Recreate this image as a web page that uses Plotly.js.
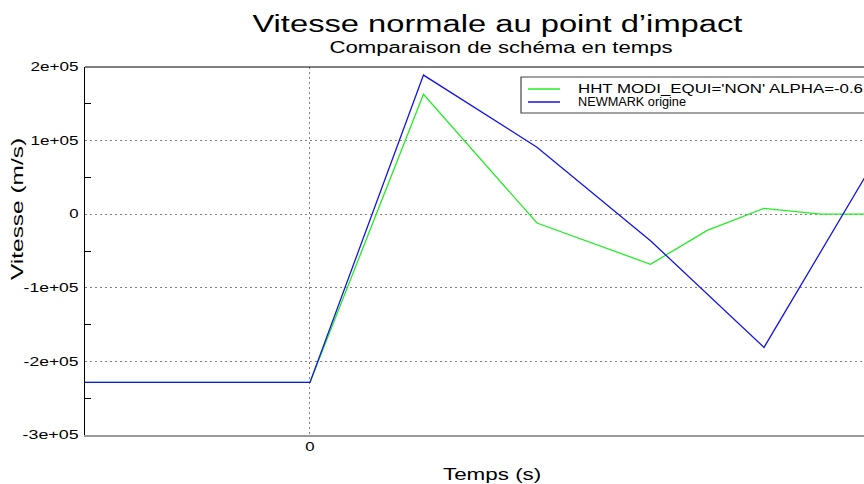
<!DOCTYPE html>
<html>
<head>
<meta charset="utf-8">
<script src="https://cdn.plot.ly/plotly-3.0.1.min.js"></script>
<style>
  html, body { margin: 0; padding: 0; background: #fff; }
  #chart { width: 864px; height: 484px; }
</style>
</head>
<body>
<div id="chart"></div>
<script>
// ---- data ----
const timeNewmark = [-2, 0, 1, 2, 3, 4, 5];
const vitNewmark  = [-228600, -228600, 189000, 91000, -36000, -181000, 79000];

const timeHHT = [-2, 0, 1, 2, 3, 3.5, 4, 4.5, 5];
const vitHHT  = [-228600, -228600, 163000, -12000, -68000, -22000, 8000, 0, 0];

const nameHHT = "HHT MODI_EQUI='NON' ALPHA=-0.6";
const nameNewmark = "NEWMARK origine";
const colorHHT = '#22ee22';
const colorNewmark = '#1414e6';

const yTickVals = [-300000, -200000, -100000, 0, 100000, 200000];
const yTickText = ['-3e+05', '-2e+05', '-1e+05', '0', '1e+05', '2e+05'];
const yMinorVals = [-250000, -150000, -50000, 50000, 150000];
const xTickVals = [0];
const xTickText = ['0'];

const titleText = 'Vitesse normale au point d’impact';
const subtitleText = 'Comparaison de schéma en temps';
const xTitleText = 'Temps (s)';
const yTitleText = 'Vitesse (m/s)';

const FONT = 'Liberation Sans, Arial, sans-serif';

const traces = [
  { x: timeHHT, y: vitHHT, name: nameHHT, type: 'scatter', mode: 'lines',
    line: { color: colorHHT, width: 1.3 } },
  { x: timeNewmark, y: vitNewmark, name: nameNewmark, type: 'scatter', mode: 'lines',
    line: { color: colorNewmark, width: 1.3 } }
];

// legend box drawn in paper coordinates (compact, like the reference)
const legBox = { x0: 0.5597, x1: 1.03, y0: 0.875, y1: 0.9728 };
const legLineX = [0.5687, 0.6098];
const legTextX = 0.6316;
const legRowsY = [0.9402, 0.9049];
const legNames = [nameHHT, nameNewmark];
const legColors = [colorHHT, colorNewmark];

const shapes = [
  { type: 'line', xref: 'paper', yref: 'paper', x0: 0, x1: 1, y0: 1, y1: 1,
    line: { color: '#000', width: 1 } },
  { type: 'rect', xref: 'paper', yref: 'paper', x0: legBox.x0, x1: legBox.x1,
    y0: legBox.y0, y1: legBox.y1, fillcolor: '#fff', line: { color: '#444', width: 1.2 } }
];
legNames.forEach(function (n, i) {
  shapes.push({ type: 'line', xref: 'paper', yref: 'paper', x0: legLineX[0], x1: legLineX[1],
    y0: legRowsY[i], y1: legRowsY[i], line: { color: legColors[i], width: 1.5 } });
});

const annotations = [
  { text: titleText, xref: 'paper', yref: 'paper', x: 0.530, y: 1.116,
    xanchor: 'center', yanchor: 'middle', showarrow: false,
    font: { family: FONT, size: 23, color: '#000' } },
  { text: subtitleText, xref: 'paper', yref: 'paper', x: 0.534, y: 1.052,
    xanchor: 'center', yanchor: 'middle', showarrow: false,
    font: { family: FONT, size: 16, color: '#000' } },
  { text: xTitleText, xref: 'paper', yref: 'paper', x: 0.522, y: -0.107,
    xanchor: 'center', yanchor: 'middle', showarrow: false,
    font: { family: FONT, size: 16, color: '#000' } },
  { text: yTitleText, xref: 'paper', yref: 'paper', x: -0.0867, y: 0.614,
    xanchor: 'center', yanchor: 'middle', showarrow: false, textangle: -90,
    font: { family: FONT, size: 16, color: '#000' } }
];
legNames.forEach(function (n, i) {
  annotations.push({ text: n, xref: 'paper', yref: 'paper', x: legTextX, y: legRowsY[i],
    xanchor: 'left', yanchor: 'middle', align: 'left', showarrow: false, borderpad: 0,
    font: { family: FONT, size: 12, color: '#000' } });
});

const layout = {
  width: 864, height: 484,
  margin: { l: 85, r: 0, t: 67, b: 49, pad: 0 },
  paper_bgcolor: '#fff', plot_bgcolor: '#fff',
  font: { family: FONT, size: 12, color: '#000' },
  showlegend: false,
  xaxis: {
    range: [-1.982, 4.881], tickmode: 'array', tickvals: xTickVals, ticktext: xTickText,
    showgrid: true, gridcolor: '#808080', griddash: '2px,3px', gridwidth: 1,
    zeroline: false, showline: true, linecolor: '#9a9a9a', linewidth: 2,
    ticks: '', tickfont: { family: FONT, size: 12 }
  },
  yaxis: {
    range: [-300000, 200000], tickmode: 'array', tickvals: yTickVals, ticktext: yTickText,
    showgrid: true, gridcolor: '#808080', griddash: '2px,3px', gridwidth: 1,
    zeroline: false, showline: true, linecolor: '#000', linewidth: 1,
    ticks: '', ticklabelstandoff: 3, tickfont: { family: FONT, size: 12 },
    minor: { tickmode: 'array', tickvals: yMinorVals, ticks: 'inside', ticklen: 6,
             tickcolor: '#000', tickwidth: 1, showgrid: false }
  },
  shapes: shapes,
  annotations: annotations
};

// target widths (px) of the horizontally wide lettering in the reference
const textWidths = {};
textWidths[titleText] = 490;
textWidths[subtitleText] = 343;
textWidths[nameHHT] = 285;
textWidths[nameNewmark] = 108;
textWidths[yTitleText] = 142;
textWidths['2e+05'] = 48; textWidths['1e+05'] = 48;
textWidths['-1e+05'] = 55; textWidths['-2e+05'] = 55; textWidths['-3e+05'] = 56;

function widenText() {
  document.querySelectorAll('#chart svg text').forEach(function (t) {
    const s = t.textContent;
    if (!s) return;
    const len = t.getComputedTextLength();
    if (!len) return;
    const w = (textWidths[s] != null) ? textWidths[s] : len * 1.4;
    t.setAttribute('textLength', w);
    t.setAttribute('lengthAdjust', 'spacingAndGlyphs');
  });
}

Plotly.newPlot('chart', traces, layout, { displayModeBar: false, staticPlot: true })
  .then(widenText);
</script>
</body>
</html>
